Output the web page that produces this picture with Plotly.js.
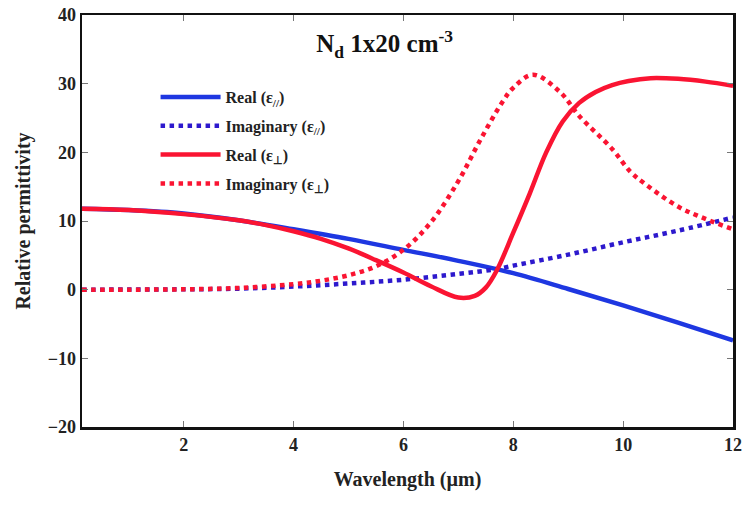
<!DOCTYPE html>
<html>
<head>
<meta charset="utf-8">
<script src="https://cdn.plot.ly/plotly-3.0.1.min.js"></script>
<style>html,body{margin:0;padding:0;background:#fff;}#chart{width:747px;height:512px;}</style>
</head>
<body>
<div id="chart"></div>
<script>
// Wavelength (µm) sample points and values
const realParX = [0.15, 1, 2, 3, 4, 5, 6, 7, 8, 9, 10, 11, 12];
const realParY = [11.8, 11.6, 11.1, 10.1, 8.8, 7.4, 5.8, 4.2, 2.4, 0.1, -2.3, -4.8, -7.4];

const imagParX = [0.15, 2, 3, 4, 5, 6, 7, 7.7, 8, 9, 10, 11, 12];
const imagParY = [0, 0.05, 0.15, 0.45, 0.9, 1.45, 2.3, 3.0, 3.5, 5.1, 6.9, 8.6, 10.5];

const realPerpX = [0.15, 1, 2, 3, 3.5, 4, 4.5, 5, 5.5, 6, 6.5, 7, 7.3, 7.5, 7.7, 8, 8.3, 8.6, 8.9, 9.2, 9.5, 9.8, 10.1, 10.5, 11, 11.5, 12];
const realPerpY = [11.8, 11.6, 11.0, 10.1, 9.4, 8.5, 7.4, 6.0, 4.3, 2.5, 0.5, -1.15, -0.9, 0.3, 2.8, 8.3, 14, 20, 24.5, 27.2, 28.8, 29.8, 30.4, 30.8, 30.7, 30.3, 29.7];

const imagPerpX = [0.15, 1, 2, 3, 4, 4.5, 5, 5.5, 6, 6.5, 7, 7.4, 7.8, 8.0, 8.36, 8.85, 9.2, 9.8, 10.13, 10.4, 11, 11.5, 12];
const imagPerpY = [0, 0, 0.05, 0.25, 0.8, 1.3, 2.1, 3.4, 5.8, 9.8, 15.8, 21.8, 27.3, 29.4, 31.3, 28.8, 25.3, 20.5, 17.2, 15.4, 12.1, 10.3, 8.8];

const names = ['Real (ε<sub>//</sub>)', 'Imaginary (ε<sub>//</sub>)', 'Real (ε<sub>⊥</sub>)', 'Imaginary (ε<sub>⊥</sub>)'];
const xTicks = [2, 4, 6, 8, 10, 12];
const yTicks = [-20, -10, 0, 10, 20, 30, 40];
const yTickText = ['−20', '−10', '0', '10', '20', '30', '40'];

const blue = 'rgb(30,55,225)';
const blueDot = 'rgb(45,25,205)';
const red = 'rgb(250,20,50)';

const traces = [
  {x: realParX, y: realParY, name: names[0], legendgroup: 'a', mode: 'lines', line: {color: blue, width: 4.5, shape: 'spline'}},
  {x: imagParX, y: imagParY, name: names[1], legendgroup: 'b', mode: 'lines', line: {color: blueDot, width: 4.5, dash: 'dot', shape: 'spline'}},
  {x: realPerpX, y: realPerpY, name: names[2], legendgroup: 'c', mode: 'lines', line: {color: red, width: 4.5, shape: 'spline'}},
  {x: imagPerpX, y: imagPerpY, name: names[3], legendgroup: 'd', mode: 'lines', line: {color: red, width: 4.5, dash: 'dot', shape: 'spline'}}
];

const font = 'Liberation Serif, Times New Roman, serif';

const layout = {
  width: 747, height: 512,
  margin: {l: 82, r: 14, t: 15, b: 85},
  paper_bgcolor: '#fff', plot_bgcolor: '#fff',
  font: {family: font, color: '#222'},
  title: {text: '<b>N<sub>d</sub> 1x20 cm<sup>-3</sup></b>', x: 0.515, xanchor: 'center', y: 0.915, yanchor: 'middle', font: {size: 25, family: font, color: '#111'}},
  xaxis: {
    range: [0.15, 12], tickvals: xTicks, ticktext: xTicks.map(String),
    ticks: 'inside', ticklen: 6, tickcolor: '#777', tickwidth: 1,
    showline: true, linecolor: '#111', linewidth: 2.5, mirror: 'ticks',
    showgrid: false, zeroline: false,
    tickfont: {size: 18, family: font, color: '#222', weight: 'bold'},
    title: {text: '<b>Wavelength (µm)</b>', font: {size: 20, family: font, color: '#222'}, standoff: 18}
  },
  yaxis: {
    range: [-20, 40], tickvals: yTicks, ticktext: yTickText,
    ticks: 'inside', ticklen: 6, tickcolor: '#777', tickwidth: 1,
    showline: true, linecolor: '#111', linewidth: 2.5, mirror: 'ticks',
    showgrid: false, zeroline: false,
    tickfont: {size: 18, family: font, color: '#222', weight: 'bold'},
    title: {text: '<b>Relative permittivity</b>', font: {size: 20, family: font, color: '#222'}, standoff: 12}
  },
  showlegend: true,
  legend: {
    x: 0.113, y: 0.842, xanchor: 'left', yanchor: 'top',
    bgcolor: 'rgba(0,0,0,0)', borderwidth: 0,
    font: {size: 16, family: font, color: '#222', weight: 'bold'},
    tracegroupgap: 5, itemwidth: 60
  }
};

Plotly.newPlot('chart', traces, layout, {displayModeBar: false, staticPlot: true});
</script>
</body>
</html>
